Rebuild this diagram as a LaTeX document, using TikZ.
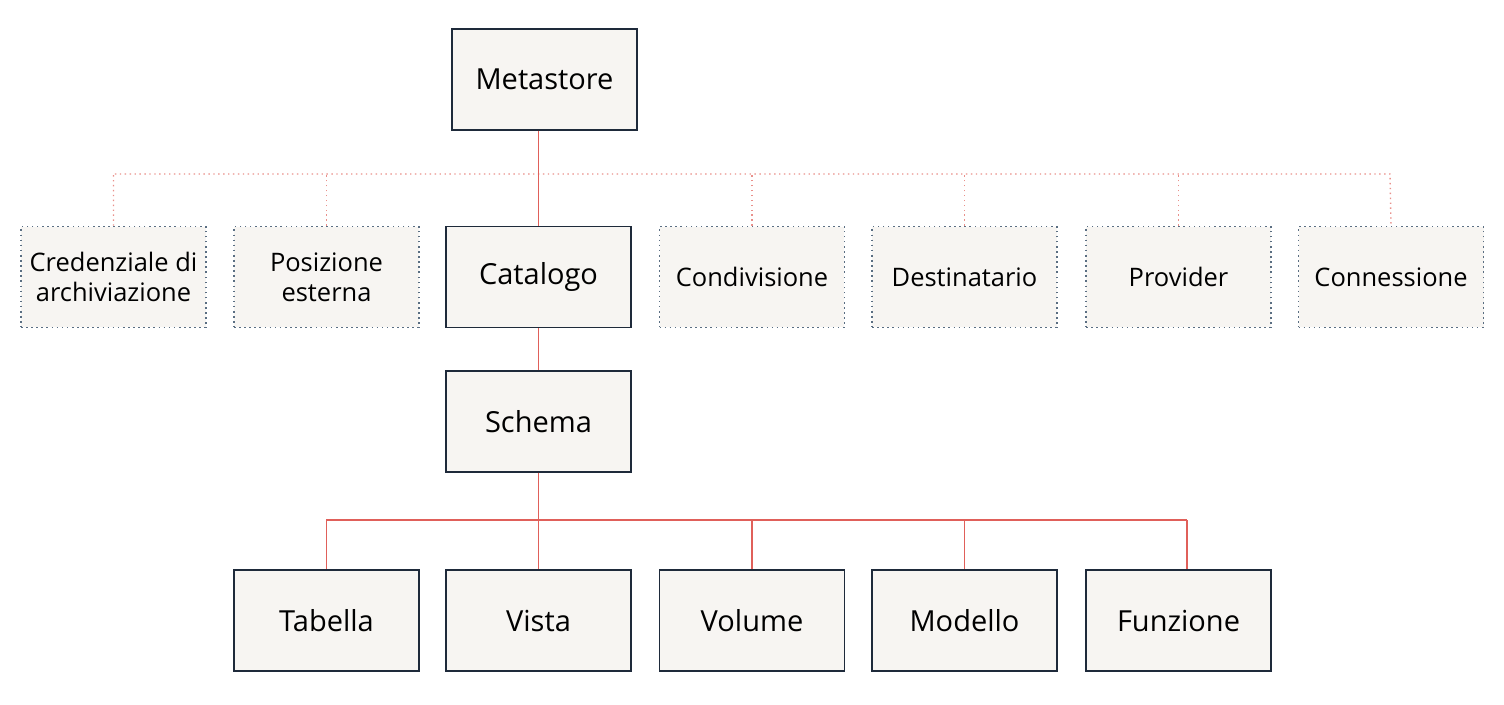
\documentclass[tikz,border=0pt]{standalone}
\usepackage{fontspec}
\setmainfont{Open Sans}
\begin{document}
\begin{tikzpicture}[x=0.02cm,y=-0.02cm,
  solid box/.style={draw=boxline,line width=0.8pt,fill=boxfill,minimum width=3.7cm,minimum height=2.02cm,align=center,font=\fontsize{16.5}{19}\selectfont,inner sep=0pt},
  dot box/.style={draw=dotline,dotted,line width=0.9pt,fill=boxfill,minimum width=3.7cm,minimum height=2.02cm,align=center,font=\fontsize{14.5}{17}\selectfont,inner sep=0pt},
  solid link/.style={draw=linkred,line width=0.8pt},
  dot link/.style={draw=linkred!70,dotted,line width=0.8pt}]
\definecolor{boxfill}{HTML}{F7F5F2}
\definecolor{linkred}{HTML}{E0605A}
\definecolor{boxline}{HTML}{1E2A3A}
\definecolor{dotline}{HTML}{5A6E82}
\useasboundingbox (0,0) rectangle (1504,704);
\node[solid box] (meta) at (544.5,79.5) {Metastore};
\node[dot box] (cred) at (113.5,277) {Credenziale di\\archiviazione};
\node[dot box] (pos) at (326.5,277) {Posizione\\esterna};
\node[solid box] (cat) at (538.5,277) {Catalogo};
\node[dot box] (cond) at (752,277) {Condivisione};
\node[dot box] (dest) at (964.5,277) {Destinatario};
\node[dot box] (prov) at (1178.5,277) {Provider};
\node[dot box] (conn) at (1391,277) {Connessione};
\node[solid box] (sch) at (538.5,421.5) {Schema};
\node[solid box] (tab) at (326.5,620.5) {Tabella};
\node[solid box] (vis) at (538.5,620.5) {Vista};
\node[solid box] (vol) at (752,620.5) {Volume};
\node[solid box] (mod) at (964.5,620.5) {Modello};
\node[solid box] (fun) at (1178.5,620.5) {Funzione};
\coordinate (dL) at (113,174);
\coordinate (dR) at (1390,174);
\draw[dot link] (cred.north) |- (dL) -- (dR) -- (conn.north);
\foreach \n in {pos,cond,dest,prov} \draw[dot link] (\n.north) -- (\n.north |- dL);
\draw[solid link] (meta.south -| cat.north) -- (cat.north);
\draw[solid link] (cat) -- (sch);
\coordinate (sL) at (326,520);
\coordinate (sR) at (1187,520);
\draw[solid link] (sch.south) -- (sch.south |- sL);
\draw[solid link] (sL) -- (sR);
\foreach \n in {tab,vis,vol,mod} \draw[solid link] (\n.north |- sL) -- (\n.north);
\draw[solid link] (sR) -- (sR |- fun.north);
\end{tikzpicture}
\end{document}
